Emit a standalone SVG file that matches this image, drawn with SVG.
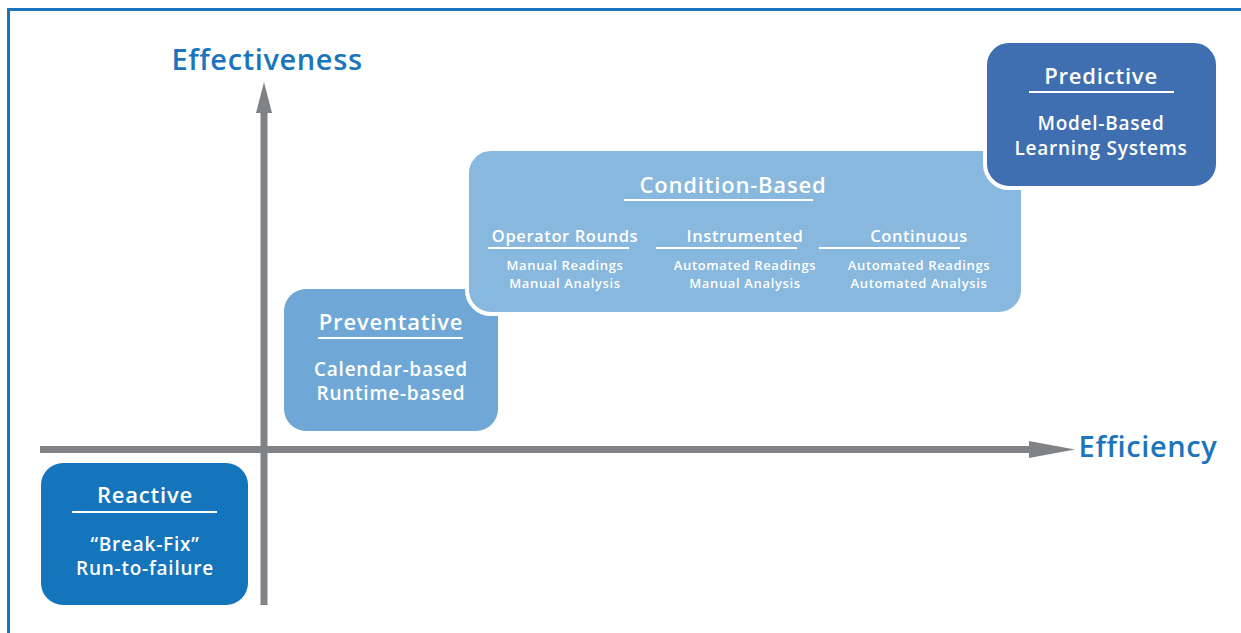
<svg xmlns="http://www.w3.org/2000/svg" width="1241" height="633" viewBox="0 0 1241 633">
<style>
text{font-family:"Open Sans",Lato,"Liberation Sans",sans-serif;font-weight:600;fill:#fff;text-anchor:middle}
.ax{fill:#1a75bc;font-size:29px;letter-spacing:0.6px}
.t{font-size:22px;letter-spacing:0.8px}
.b{font-size:19px;letter-spacing:0.75px}
.s{font-size:16.5px;letter-spacing:0.6px}
.m{font-size:13px;letter-spacing:0.65px}
.ul{stroke:#fff;stroke-width:2}
.axis{stroke:#808285;stroke-width:7;fill:none}
</style>
<rect x="0" y="0" width="1241" height="633" fill="#fff"/>
<path d="M8.5,633 V9.5 H1241" fill="none" stroke="#1a75bc" stroke-width="3"/>
<g id="connectors">
<line class="axis" x1="264" y1="605" x2="264" y2="110"/>
<polygon points="264,82 272,113 256,113" fill="#808285"/>
<line class="axis" x1="40" y1="449.5" x2="1032" y2="449.5"/>
<polygon points="1075,449.5 1029,441 1029,458" fill="#808285"/>
</g>
<text class="ax" x="267" y="70">Effectiveness</text>
<text class="ax" x="1148" y="457">Efficiency</text>
<g id="reactive">
<rect x="41" y="463" width="207" height="142" rx="22" fill="#1474bc"/>
<text class="t" x="145" y="503">Reactive</text>
<line class="ul" x1="72" y1="512" x2="217" y2="512"/>
<text class="b" x="145" y="551">“Break-Fix”</text>
<text class="b" x="145" y="575">Run-to-failure</text>
</g>
<g id="preventative">
<rect x="284" y="289" width="214" height="142" rx="22" fill="#6fa8d6"/>
<text class="t" x="391" y="330">Preventative</text>
<line class="ul" x1="318" y1="338" x2="463" y2="338"/>
<text class="b" x="391" y="376">Calendar-based</text>
<text class="b" x="391" y="400">Runtime-based</text>
</g>
<g id="condition">
<rect x="467" y="149" width="556" height="165" rx="24" fill="#88b8dd" stroke="#fff" stroke-width="4"/>
<text class="t" x="733" y="193">Condition-Based</text>
<line class="ul" x1="624" y1="200" x2="813" y2="200"/>
<text class="s" x="565" y="242">Operator Rounds</text>
<line class="ul" x1="488" y1="248" x2="629" y2="248"/>
<text class="m" x="565" y="270">Manual Readings</text>
<text class="m" x="565" y="288">Manual Analysis</text>
<text class="s" x="745" y="242">Instrumented</text>
<line class="ul" x1="656" y1="248" x2="797" y2="248"/>
<text class="m" x="745" y="270">Automated Readings</text>
<text class="m" x="745" y="288">Manual Analysis</text>
<text class="s" x="919" y="242">Continuous</text>
<line class="ul" x1="819" y1="248" x2="960" y2="248"/>
<text class="m" x="919" y="270">Automated Readings</text>
<text class="m" x="919" y="288">Automated Analysis</text>
</g>
<g id="predictive">
<rect x="985" y="41" width="233" height="147" rx="24" fill="#3f6fb1" stroke="#fff" stroke-width="4"/>
<text class="t" x="1101" y="84">Predictive</text>
<line class="ul" x1="1029" y1="92" x2="1174" y2="92"/>
<text class="b" x="1101" y="130">Model-Based</text>
<text class="b" x="1101" y="155">Learning Systems</text>
</g>
</svg>
